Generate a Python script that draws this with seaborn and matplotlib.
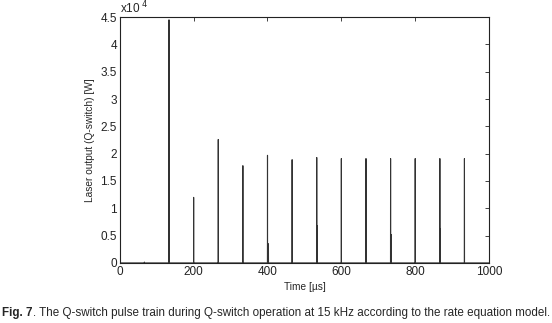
import numpy as np
import pandas as pd
import matplotlib.pyplot as plt
import seaborn as sns

# pulse times (us) and peak powers (W)
pulse_t = [66.7, 133.3, 200.0, 266.7, 333.3, 400.0, 402.5, 466.7, 533.3, 534.5,
           600.0, 666.7, 733.3, 735.0, 800.0, 866.7, 868.0, 933.3]
pulse_p = [150, 44500, 12000, 22600, 17800, 19700, 3500, 18900, 19300, 6800,
           19100, 19100, 19100, 5200, 19100, 19100, 6200, 19100]

yticks = [0, 0.5e4, 1e4, 1.5e4, 2e4, 2.5e4, 3e4, 3.5e4, 4e4, 4.5e4]
ylabels = ['0', '0.5', '1', '1.5', '2', '2.5', '3', '3.5', '4', '4.5']

# build a time trace: zero baseline with narrow spikes
t, p = [0.0], [0.0]
for ti, pi in zip(pulse_t, pulse_p):
    t += [ti - 0.2, ti, ti + 0.2]
    p += [0.0, pi, 0.0]
t.append(1000.0)
p.append(0.0)
df = pd.DataFrame({'time': t, 'power': p})

sns.set_style('white')
plt.rcParams['font.family'] = ['Liberation Sans', 'DejaVu Sans']

fig = plt.figure(figsize=(5.52, 3.23), dpi=100)
ax = fig.add_axes([0.217, 0.186, 0.669, 0.761])
sns.lineplot(data=df, x='time', y='power', estimator=None, color='#333333',
             linewidth=0.8, ax=ax)

ax.set_xlim(0, 1000)
ax.set_ylim(0, 4.5e4)
ax.set_xticks([0, 200, 400, 600, 800, 1000])
ax.set_yticks(yticks)
ax.set_yticklabels(ylabels)
ax.tick_params(direction='in', length=3, width=0.6, labelsize=8.5,
               top=True, right=True, colors='#222222', pad=2)
for s in ax.spines.values():
    s.set_linewidth(0.8)
    s.set_color('#222222')
ax.set_xlabel('Time [µs]', fontsize=7.3, labelpad=3)
ax.set_ylabel('Laser output (Q-switch) [W]', fontsize=7.3, labelpad=4)
ax.text(0.0, 1.005, 'x10$^{\\ 4}$', transform=ax.transAxes, fontsize=8.5,
        ha='left', va='bottom')

# caption: bold label followed by normal text
fig.canvas.draw()
lab = fig.text(0.004, 0.022, 'Fig. 7', fontsize=8.4, fontweight='bold', ha='left')
bb = lab.get_window_extent(renderer=fig.canvas.get_renderer())
fig.text(bb.x1 / fig.bbox.width, 0.022, '. The Q-switch pulse train during Q-switch '
         'operation at 15 kHz according to the rate equation model.',
         fontsize=8.4, ha='left')

fig.savefig('out.png', dpi=100)
